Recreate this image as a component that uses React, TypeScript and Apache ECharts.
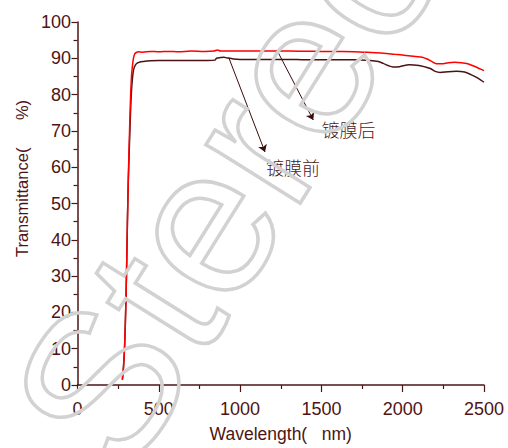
import React, { useEffect, useRef } from "react";
import * as echarts from "echarts";

// Transmittance after coating (镀膜后)
const wavelengthAfter = [276, 283, 290, 296, 302, 307, 313, 320, 326, 332, 338, 344, 352, 362, 375, 400, 450, 500, 560, 620, 700, 780, 840, 860, 880, 920, 1000, 1100, 1200, 1300, 1400, 1500, 1600, 1700, 1800, 1880, 1950, 2020, 2080, 2120, 2150, 2180, 2210, 2240, 2280, 2320, 2360, 2400, 2440, 2470, 2500];
const transAfter = [1.5, 5, 11, 20, 32, 45, 58, 70, 79, 85, 88, 90, 91.2, 91.6, 91.8, 91.7, 91.9, 91.8, 91.9, 91.8, 92.0, 91.9, 92.0, 92.3, 92.0, 92.0, 92.0, 92.0, 92.0, 92.0, 91.95, 91.9, 91.85, 91.8, 91.6, 91.4, 91.1, 90.8, 90.5, 90.3, 89.8, 89.1, 88.5, 88.5, 88.8, 88.9, 88.8, 88.5, 87.8, 87.2, 86.6];

// Transmittance before coating (镀膜前)
const wavelengthBefore = [276, 283, 290, 296, 302, 307, 313, 320, 326, 332, 338, 344, 352, 362, 380, 405, 450, 500, 600, 700, 800, 845, 855, 880, 900, 920, 960, 1000, 1100, 1200, 1300, 1400, 1500, 1600, 1700, 1800, 1850, 1880, 1910, 1940, 1980, 2040, 2100, 2140, 2170, 2200, 2230, 2280, 2330, 2380, 2420, 2460, 2500];
const transBefore = [1.5, 5, 11, 20, 32, 45, 57, 67, 75, 81, 84.5, 86.6, 87.8, 88.5, 88.9, 89.1, 89.3, 89.4, 89.4, 89.4, 89.4, 89.5, 90.0, 90.2, 90.3, 90.1, 89.8, 89.7, 89.7, 89.7, 89.7, 89.6, 89.6, 89.6, 89.6, 89.4, 89.1, 88.6, 88.0, 87.6, 87.7, 88.2, 88.0, 87.6, 87.2, 86.4, 86.1, 86.3, 86.4, 86.2, 85.5, 84.6, 83.4];

// Annotation arrows: [from, to] in (wavelength, transmittance)
const arrowBefore = [[931, 90.1], [1153, 64.2]];
const arrowAfter = [[1226, 92.3], [1450, 73.0]];
const labelBefore = { text: "镀膜前", at: [1160, 60.1] };
const labelAfter = { text: "镀膜后", at: [1500, 70.6] };

const INK = "#4e1414";
const TICK_FONT = "'Liberation Sans', Arial, sans-serif";

function zip(xs: number[], ys: number[]) {
  return xs.map((x, i) => [x, ys[i]]);
}

export default function App() {
  const ref = useRef<HTMLDivElement>(null);

  useEffect(() => {
    document.body.style.margin = "0";
    if (!ref.current) return;
    const chart = echarts.init(ref.current, undefined, { renderer: "svg" });

    const arrowLine = (pts: number[][]) => ({
      silent: true,
      symbol: ["none", "arrow"],
      symbolSize: 7,
      label: { show: false },
      lineStyle: { color: "#3a0c0c", width: 1, type: "solid" },
      emphasis: { disabled: true },
      data: [[{ coord: pts[0] }, { coord: pts[1] }]],
    });

    const textPoint = (lab: { text: string; at: number[] }) => ({
      silent: true,
      symbol: "circle",
      symbolSize: 0,
      label: {
        show: true,
        position: "right",
        distance: 0,
        formatter: lab.text,
        color: "#4a1a1a",
        fontSize: 18,
        fontFamily: "'Noto Sans CJK SC', sans-serif",
        fontWeight: 300,
      },
      data: [{ coord: lab.at }],
    });

    const plainNumber = (v: number) => String(v);

    chart.setOption({
      animation: false,
      backgroundColor: "#ffffff",
      grid: { left: 77.5, right: 24, top: 22, bottom: 62.5, containLabel: false },
      xAxis: {
        type: "value",
        min: 0,
        max: 2500,
        interval: 500,
        name: "Wavelength(   nm)",
        nameLocation: "middle",
        nameGap: 40,
        nameTextStyle: { color: INK, fontSize: 17.5, fontFamily: TICK_FONT },
        axisLine: { show: true, lineStyle: { color: INK, width: 1.5 } },
        axisTick: { show: true, length: 7, lineStyle: { color: INK, width: 1.2 } },
        minorTick: { show: true, splitNumber: 2, length: 4, lineStyle: { color: INK, width: 1.2 } },
        splitLine: { show: false },
        axisLabel: { color: INK, fontSize: 18, fontFamily: TICK_FONT, margin: 14.5, formatter: plainNumber },
      },
      yAxis: {
        type: "value",
        min: 0,
        max: 100,
        interval: 10,
        name: "Transmittance(      %)",
        nameLocation: "middle",
        nameGap: 39,
        nameTextStyle: { color: INK, fontSize: 16.5, fontFamily: TICK_FONT, padding: [0, 0, 0, 50] },
        axisLine: { show: true, lineStyle: { color: INK, width: 1.5 } },
        axisTick: { show: true, length: 6, lineStyle: { color: INK, width: 1.2 } },
        minorTick: { show: true, splitNumber: 2, length: 4, lineStyle: { color: INK, width: 1.2 } },
        splitLine: { show: false },
        axisLabel: { color: INK, fontSize: 18, fontFamily: TICK_FONT, margin: 6.5, formatter: plainNumber },
      },
      series: [
        {
          name: "镀膜前",
          type: "line",
          data: zip(wavelengthBefore, transBefore),
          showSymbol: false,
          smooth: 0.3,
          lineStyle: { color: "#4a1212", width: 1.5 },
          z: 2,
          markLine: arrowLine(arrowBefore),
          markPoint: textPoint(labelBefore),
        },
        {
          name: "镀膜后",
          type: "line",
          data: zip(wavelengthAfter, transAfter),
          showSymbol: false,
          smooth: 0.3,
          lineStyle: { color: "#ff0000", width: 1.5 },
          z: 3,
          markLine: arrowLine(arrowAfter),
          markPoint: textPoint(labelAfter),
        },
      ],
      graphic: [
        {
          type: "text",
          x: 153,
          y: 500,
          rotation: (58 * Math.PI) / 180,
          silent: true,
          z: 100,
          style: {
            text: "Stereo",
            font: "210px 'Liberation Sans', Arial, sans-serif",
            fill: "transparent",
            stroke: "#d2d2d2",
            lineWidth: 3.5,
            align: "left",
            verticalAlign: "bottom",
          },
        },
      ],
    });

    return () => chart.dispose();
  }, []);

  return <div ref={ref} style={{ width: 508, height: 448 }} />;
}
